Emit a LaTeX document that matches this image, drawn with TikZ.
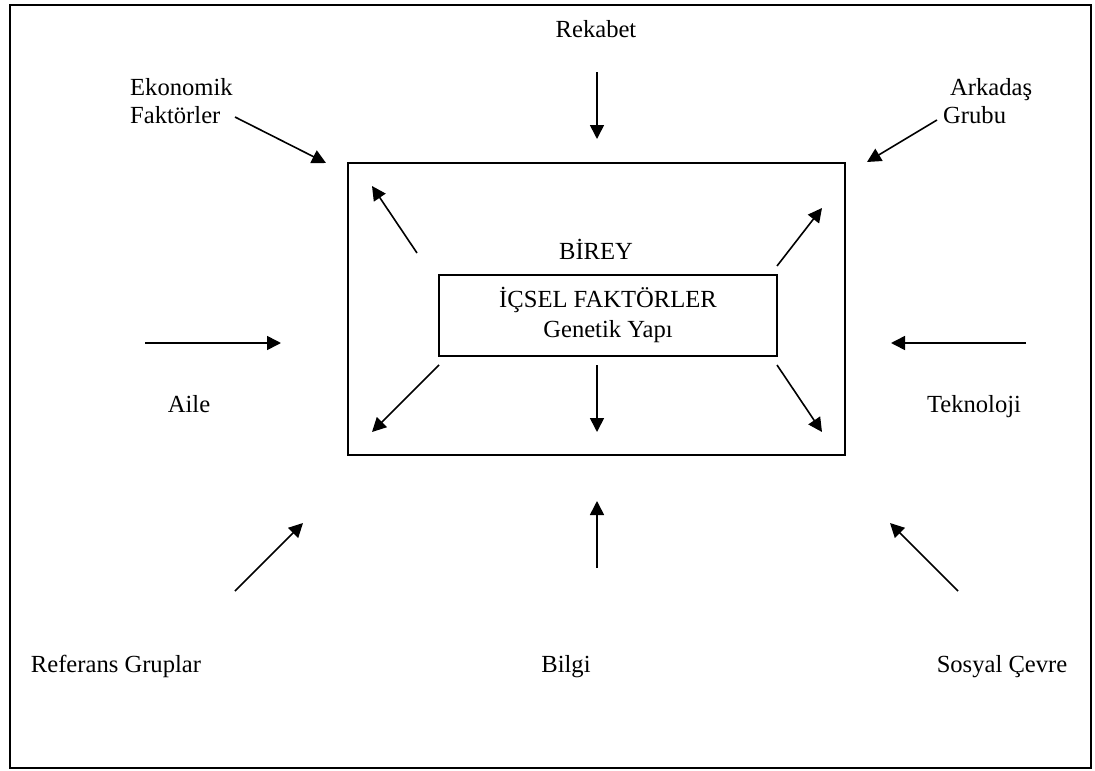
\documentclass[tikz,border=0pt]{standalone}
\usepackage{fontspec}
\setmainfont{Liberation Serif}
\usetikzlibrary{arrows.meta}
\begin{document}
\begin{tikzpicture}[x=1pt,y=-1pt,
  lbl/.style={inner sep=0pt,font=\fontsize{24.6}{28}\selectfont},
  frame/.style={draw=black,line width=1.6pt},
  flow/.style={line width=1.6pt,-{Triangle[length=14pt,width=14pt]}}]
\useasboundingbox (0,0) rectangle (1095,771);
% outer frame
\draw[frame] (10,5) rectangle (1091,768);
% the individual and the inner factors
\draw[frame] (348,163) rectangle (845,455);
\node[frame,minimum width=338pt,minimum height=81pt,inner sep=0pt] (inner) at (608,315.5) {};
\node[lbl,anchor=base] (birey) at (596,259) {BİREY};
\node[lbl,anchor=base] (icsel) at (608,307) {İÇSEL FAKTÖRLER};
\node[lbl,anchor=base] (genetik) at (608,337) {Genetik Yapı};
% outward arrows from the individual
\coordinate (o1s) at (417,253); \coordinate (o1e) at (372,186);
\coordinate (o2s) at (777,266); \coordinate (o2e) at (822,208);
\coordinate (o3s) at (439,365); \coordinate (o3e) at (372,432);
\coordinate (o4s) at (597,365); \coordinate (o4e) at (597,432);
\coordinate (o5s) at (777,365); \coordinate (o5e) at (822,432);
\foreach \i in {1,...,5} \draw[flow] (o\i s) -- (o\i e);
% external factors
\node[lbl,anchor=base] (rekabet) at (596,37) {Rekabet};
\node[lbl,anchor=base west] (ekonomik) at (130,95) {Ekonomik};
\node[lbl,anchor=base west] (faktorler) at (130,123) {Faktörler};
\node[lbl,anchor=base west] (arkadas) at (950,95) {Arkadaş};
\node[lbl,anchor=base west] (grubu) at (943,123) {Grubu};
\node[lbl,anchor=base] (aile) at (189,412) {Aile};
\node[lbl,anchor=base] (teknoloji) at (974,412) {Teknoloji};
\node[lbl,anchor=base] (referans) at (116,672) {Referans Gruplar};
\node[lbl,anchor=base] (bilgi) at (566,672) {Bilgi};
\node[lbl,anchor=base] (sosyal) at (1002,672) {Sosyal Çevre};
% inward arrows towards the individual
\coordinate (i1s) at (597,72);  \coordinate (i1e) at (597,139);
\coordinate (i2s) at (235,117); \coordinate (i2e) at (326,163);
\coordinate (i3s) at (937,120); \coordinate (i3e) at (867,162);
\coordinate (i4s) at (145,343); \coordinate (i4e) at (281,343);
\coordinate (i5s) at (1026,343);\coordinate (i5e) at (891,343);
\coordinate (i6s) at (235,591); \coordinate (i6e) at (303,523);
\coordinate (i7s) at (597,568); \coordinate (i7e) at (597,501);
\coordinate (i8s) at (958,591); \coordinate (i8e) at (890,523);
\foreach \i in {1,...,8} \draw[flow] (i\i s) -- (i\i e);
\end{tikzpicture}
\end{document}
